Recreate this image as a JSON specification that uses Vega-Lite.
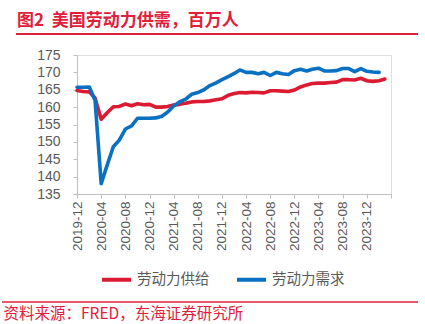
{
  "$schema": "https://vega.github.io/schema/vega-lite/v6.json",
  "width": 314,
  "height": 139,
  "autosize": "none",
  "padding": {"left": 77, "top": 55, "right": 34, "bottom": 130},
  "background": "white",
  "title": {
    "text": "图2\u00a0\u00a0美国劳动力供需，百万人",
    "anchor": "start",
    "frame": "group",
    "dx": -60,
    "offset": 3.5,
    "color": "#E0203A",
    "font": "Noto Sans CJK SC",
    "fontSize": 17,
    "fontWeight": "bold"
  },
  "datasets": {
    "lines": [
      {"d": "2019-12-01", "s": "劳动力供给", "v": 164.8},
      {"d": "2020-01-01", "s": "劳动力供给", "v": 164.5},
      {"d": "2020-02-01", "s": "劳动力供给", "v": 164.4},
      {"d": "2020-03-01", "s": "劳动力供给", "v": 162.6},
      {"d": "2020-04-01", "s": "劳动力供给", "v": 156.5},
      {"d": "2020-05-01", "s": "劳动力供给", "v": 158.4},
      {"d": "2020-06-01", "s": "劳动力供给", "v": 160.1},
      {"d": "2020-07-01", "s": "劳动力供给", "v": 160.2},
      {"d": "2020-08-01", "s": "劳动力供给", "v": 160.9},
      {"d": "2020-09-01", "s": "劳动力供给", "v": 160.4},
      {"d": "2020-10-01", "s": "劳动力供给", "v": 161.0},
      {"d": "2020-11-01", "s": "劳动力供给", "v": 160.7},
      {"d": "2020-12-01", "s": "劳动力供给", "v": 160.8},
      {"d": "2021-01-01", "s": "劳动力供给", "v": 160.0},
      {"d": "2021-02-01", "s": "劳动力供给", "v": 160.0},
      {"d": "2021-03-01", "s": "劳动力供给", "v": 160.2},
      {"d": "2021-04-01", "s": "劳动力供给", "v": 160.6},
      {"d": "2021-05-01", "s": "劳动力供给", "v": 160.8},
      {"d": "2021-06-01", "s": "劳动力供给", "v": 161.1},
      {"d": "2021-07-01", "s": "劳动力供给", "v": 161.5},
      {"d": "2021-08-01", "s": "劳动力供给", "v": 161.6},
      {"d": "2021-09-01", "s": "劳动力供给", "v": 161.6},
      {"d": "2021-10-01", "s": "劳动力供给", "v": 161.8},
      {"d": "2021-11-01", "s": "劳动力供给", "v": 162.1},
      {"d": "2021-12-01", "s": "劳动力供给", "v": 162.4},
      {"d": "2022-01-01", "s": "劳动力供给", "v": 163.4},
      {"d": "2022-02-01", "s": "劳动力供给", "v": 163.9},
      {"d": "2022-03-01", "s": "劳动力供给", "v": 164.2},
      {"d": "2022-04-01", "s": "劳动力供给", "v": 164.1},
      {"d": "2022-05-01", "s": "劳动力供给", "v": 164.3},
      {"d": "2022-06-01", "s": "劳动力供给", "v": 164.2},
      {"d": "2022-07-01", "s": "劳动力供给", "v": 164.1},
      {"d": "2022-08-01", "s": "劳动力供给", "v": 164.7},
      {"d": "2022-09-01", "s": "劳动力供给", "v": 164.7},
      {"d": "2022-10-01", "s": "劳动力供给", "v": 164.6},
      {"d": "2022-11-01", "s": "劳动力供给", "v": 164.5},
      {"d": "2022-12-01", "s": "劳动力供给", "v": 164.9},
      {"d": "2023-01-01", "s": "劳动力供给", "v": 165.8},
      {"d": "2023-02-01", "s": "劳动力供给", "v": 166.4},
      {"d": "2023-03-01", "s": "劳动力供给", "v": 166.8},
      {"d": "2023-04-01", "s": "劳动力供给", "v": 166.9},
      {"d": "2023-05-01", "s": "劳动力供给", "v": 166.9},
      {"d": "2023-06-01", "s": "劳动力供给", "v": 167.1},
      {"d": "2023-07-01", "s": "劳动力供给", "v": 167.2},
      {"d": "2023-08-01", "s": "劳动力供给", "v": 167.9},
      {"d": "2023-09-01", "s": "劳动力供给", "v": 167.9},
      {"d": "2023-10-01", "s": "劳动力供给", "v": 167.8},
      {"d": "2023-11-01", "s": "劳动力供给", "v": 168.3},
      {"d": "2023-12-01", "s": "劳动力供给", "v": 167.6},
      {"d": "2024-01-01", "s": "劳动力供给", "v": 167.4},
      {"d": "2024-02-01", "s": "劳动力供给", "v": 167.6},
      {"d": "2024-03-01", "s": "劳动力供给", "v": 168.1},
      {"d": "2019-12-01", "s": "劳动力需求", "v": 165.7},
      {"d": "2020-01-01", "s": "劳动力需求", "v": 165.7},
      {"d": "2020-02-01", "s": "劳动力需求", "v": 165.8},
      {"d": "2020-03-01", "s": "劳动力需求", "v": 162.0},
      {"d": "2020-04-01", "s": "劳动力需求", "v": 138.0},
      {"d": "2020-05-01", "s": "劳动力需求", "v": 143.3},
      {"d": "2020-06-01", "s": "劳动力需求", "v": 148.6},
      {"d": "2020-07-01", "s": "劳动力需求", "v": 150.5},
      {"d": "2020-08-01", "s": "劳动力需求", "v": 153.7},
      {"d": "2020-09-01", "s": "劳动力需求", "v": 154.6},
      {"d": "2020-10-01", "s": "劳动力需求", "v": 156.8},
      {"d": "2020-11-01", "s": "劳动力需求", "v": 156.8},
      {"d": "2020-12-01", "s": "劳动力需求", "v": 156.8},
      {"d": "2021-01-01", "s": "劳动力需求", "v": 156.9},
      {"d": "2021-02-01", "s": "劳动力需求", "v": 157.4},
      {"d": "2021-03-01", "s": "劳动力需求", "v": 158.5},
      {"d": "2021-04-01", "s": "劳动力需求", "v": 160.3},
      {"d": "2021-05-01", "s": "劳动力需求", "v": 161.5},
      {"d": "2021-06-01", "s": "劳动力需求", "v": 162.3},
      {"d": "2021-07-01", "s": "劳动力需求", "v": 163.7},
      {"d": "2021-08-01", "s": "劳动力需求", "v": 164.2},
      {"d": "2021-09-01", "s": "劳动力需求", "v": 165.0},
      {"d": "2021-10-01", "s": "劳动力需求", "v": 166.2},
      {"d": "2021-11-01", "s": "劳动力需求", "v": 167.0},
      {"d": "2021-12-01", "s": "劳动力需求", "v": 167.9},
      {"d": "2022-01-01", "s": "劳动力需求", "v": 168.8},
      {"d": "2022-02-01", "s": "劳动力需求", "v": 169.7},
      {"d": "2022-03-01", "s": "劳动力需求", "v": 170.7},
      {"d": "2022-04-01", "s": "劳动力需求", "v": 170.0},
      {"d": "2022-05-01", "s": "劳动力需求", "v": 170.0},
      {"d": "2022-06-01", "s": "劳动力需求", "v": 169.6},
      {"d": "2022-07-01", "s": "劳动力需求", "v": 170.0},
      {"d": "2022-08-01", "s": "劳动力需求", "v": 169.1},
      {"d": "2022-09-01", "s": "劳动力需求", "v": 170.0},
      {"d": "2022-10-01", "s": "劳动力需求", "v": 169.6},
      {"d": "2022-11-01", "s": "劳动力需求", "v": 169.4},
      {"d": "2022-12-01", "s": "劳动力需求", "v": 170.5},
      {"d": "2023-01-01", "s": "劳动力需求", "v": 170.9},
      {"d": "2023-02-01", "s": "劳动力需求", "v": 170.4},
      {"d": "2023-03-01", "s": "劳动力需求", "v": 170.9},
      {"d": "2023-04-01", "s": "劳动力需求", "v": 171.2},
      {"d": "2023-05-01", "s": "劳动力需求", "v": 170.4},
      {"d": "2023-06-01", "s": "劳动力需求", "v": 170.4},
      {"d": "2023-07-01", "s": "劳动力需求", "v": 170.5},
      {"d": "2023-08-01", "s": "劳动力需求", "v": 171.1},
      {"d": "2023-09-01", "s": "劳动力需求", "v": 171.1},
      {"d": "2023-10-01", "s": "劳动力需求", "v": 170.2},
      {"d": "2023-11-01", "s": "劳动力需求", "v": 171.1},
      {"d": "2023-12-01", "s": "劳动力需求", "v": 170.3},
      {"d": "2024-01-01", "s": "劳动力需求", "v": 170.1},
      {"d": "2024-02-01", "s": "劳动力需求", "v": 170.0}
    ]
  },
  "layer": [
    {
      "data": {"name": "lines"},
      "mark": {"type": "line", "strokeWidth": 3.6, "strokeJoin": "round", "strokeCap": "round"},
      "encoding": {
        "x": {
          "field": "d",
          "type": "temporal",
          "scale": {
            "type": "utc",
            "domain": [
              {"year": 2019, "month": 12, "date": 1, "utc": true},
              {"year": 2024, "month": 4, "date": 1, "utc": true}
            ]
          },
          "axis": {
            "title": "资料来源：FRED，东海证券研究所",
            "titleColor": "#E0203A",
            "titleFont": "Noto Sans CJK SC",
            "titleFontSize": 15.5,
            "titleFontWeight": "normal",
            "titleAnchor": "start",
            "titleAlign": "left",
            "titleBaseline": "alphabetic",
            "titleX": -74,
            "titleY": 124,
            "values": [
              {"year": 2019, "month": 12, "date": 1, "utc": true},
              {"year": 2020, "month": 4, "date": 1, "utc": true},
              {"year": 2020, "month": 8, "date": 1, "utc": true},
              {"year": 2020, "month": 12, "date": 1, "utc": true},
              {"year": 2021, "month": 4, "date": 1, "utc": true},
              {"year": 2021, "month": 8, "date": 1, "utc": true},
              {"year": 2021, "month": 12, "date": 1, "utc": true},
              {"year": 2022, "month": 4, "date": 1, "utc": true},
              {"year": 2022, "month": 8, "date": 1, "utc": true},
              {"year": 2022, "month": 12, "date": 1, "utc": true},
              {"year": 2023, "month": 4, "date": 1, "utc": true},
              {"year": 2023, "month": 8, "date": 1, "utc": true},
              {"year": 2023, "month": 12, "date": 1, "utc": true},
              {"year": 2024, "month": 4, "date": 1, "utc": true}
            ],
            "labelExpr": "utcyear(datum.value) >= 2024 ? '' : utcFormat(datum.value, '%Y-%m')",
            "labelAngle": -90,
            "labelFont": "Liberation Sans",
            "labelFontSize": 13.5,
            "labelColor": "#595959",
            "labelPadding": 3,
            "labelOverlap": false,
            "labelFlush": false,
            "grid": false,
            "domainColor": "#BFBFBF",
            "tickColor": "#BFBFBF",
            "tickSize": 4
          }
        },
        "y": {
          "field": "v",
          "type": "quantitative",
          "scale": {"domain": [135, 175], "zero": false, "nice": false},
          "axis": {
            "title": null,
            "values": [135, 140, 145, 150, 155, 160, 165, 170, 175],
            "labelFont": "Liberation Sans",
            "labelFontSize": 14,
            "labelColor": "#595959",
            "labelPadding": 13,
            "grid": false,
            "domainColor": "#BFBFBF",
            "tickColor": "#BFBFBF",
            "tickSize": 4
          }
        },
        "color": {
          "field": "s",
          "type": "nominal",
          "scale": {"domain": ["劳动力供给", "劳动力需求"], "range": ["#DC1A32", "#0A70C2"]},
          "legend": {
            "title": null,
            "orient": "none",
            "direction": "horizontal",
            "legendX": 23,
            "legendY": 208,
            "symbolType": "stroke",
            "symbolSize": 841,
            "symbolStrokeWidth": 4,
            "labelFont": "Noto Sans CJK SC",
            "labelFontSize": 14.5,
            "labelColor": "#595959",
            "labelOffset": 4,
            "columnPadding": 19
          }
        }
      }
    },
    {
      "data": {"values": [{}]},
      "mark": {"type": "rule", "color": "#E0203A", "strokeWidth": 2},
      "encoding": {"x": {"value": -61}, "x2": {"value": 341}, "y": {"value": -21}}
    },
    {
      "data": {"values": [{}]},
      "mark": {"type": "rule", "color": "#E0203A", "strokeWidth": 1.5},
      "encoding": {"x": {"value": -75}, "x2": {"value": 341}, "y": {"value": 247}}
    }
  ]
}
